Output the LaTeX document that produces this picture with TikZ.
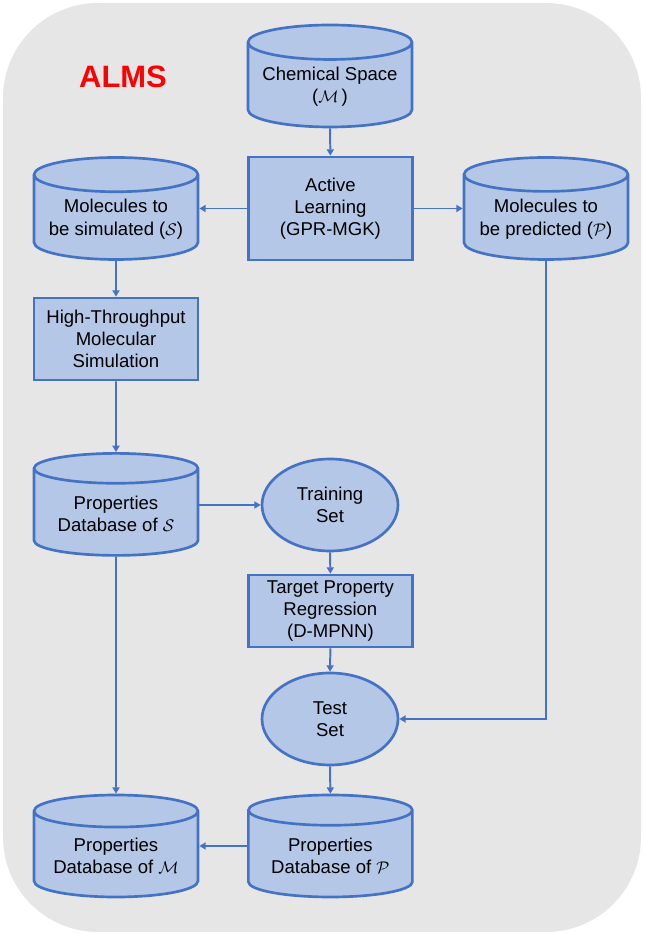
\documentclass[tikz,border=0pt]{standalone}
\usepackage{fontspec}
\setmainfont{Liberation Sans}
\usetikzlibrary{arrows.meta, positioning, shapes.geometric}

\definecolor{lineblue}{HTML}{4472C4}
\definecolor{boxblue}{HTML}{B4C7E7}
\definecolor{bggray}{HTML}{E6E6E6}

\begin{document}
\begin{tikzpicture}[
        every node/.style={font=\fontsize{13.2}{15.8}\selectfont, align=center},
        db/.style={cylinder, shape border rotate=90, aspect=0.25, draw=lineblue, fill=boxblue,
            line width=1.9pt, minimum width=4.1cm, minimum height=2.55cm, inner sep=1pt,
            anchor=shape center},
        proc/.style={rectangle, draw=lineblue, fill=boxblue, line width=1.9pt, minimum width=4.1cm},
        setnode/.style={ellipse, draw=lineblue, fill=boxblue, line width=1.9pt,
            minimum width=3.4cm, minimum height=2.3cm, inner sep=0pt},
        flow/.style={draw=lineblue, line width=1.4pt, -{Triangle[width=5pt, length=4.5pt]}}
    ]
        % Nền
        \useasboundingbox (0,0) rectangle (16.1,23.35);
        \fill[bggray, rounded corners=2.375cm] (0.075,0.05) rectangle (16.025,23.275);

        \node[text=red, font=\fontsize{22}{26}\selectfont\bfseries] (title) at (3.075,21.425) {ALMS};

        % Các khối chính
        \node[db] (chem) at (8.25,21.45) {Chemical Space\\($\mathcal{M}$\,)};
        \node[proc, minimum height=2.575cm] (active) at (8.26,18.1375) {Active\\Learning\\(GPR-MGK)};
        \node[db] (sim) at (2.9,18.1375) {Molecules to\\be simulated ($\mathcal{S}$)};
        \node[db] (pred) at (13.65,18.1375) {Molecules to\\be predicted ($\mathcal{P}$)};
        \node[proc, minimum height=2.05cm] (hts) at (2.9,14.875) {High-Throughput\\Molecular\\Simulation};
        \node[db] (dbS) at (2.9,10.74) {Properties\\Database of $\mathcal{S}$};
        \node[setnode] (train) at (8.25,10.725) {Training\\Set};
        \node[proc, minimum height=1.8cm] (tpr) at (8.26,8.075) {Target Property\\Regression\\(D-MPNN)};
        \node[setnode] (test) at (8.25,5.375) {Test\\Set};
        \node[db] (dbP) at (8.26,2.2) {Properties\\Database of $\mathcal{P}$};
        \node[db] (dbM) at (2.9,2.2) {Properties\\Database of $\mathcal{M}$};

        % Các mũi tên
        \draw[flow] (chem.south) -- (active.north);
        \draw[flow] (active.west) -- (active.west -| sim.east);
        \draw[flow] (active.east) -- (active.east -| pred.west);
        \draw[flow] (sim.south) -- (hts.north);
        \draw[flow] (hts.south) -- (dbS.north);
        \draw[flow] (train.west -| dbS.east) -- (train.west);
        \draw[flow] (train.south) -- (tpr.north);
        \draw[flow] (tpr.south) -- (test.north);
        \draw[flow] (pred.south) |- (test.east);
        \draw[flow] (test.south) -- (dbP.north);
        \draw[flow] (dbS.south) -- (dbM.north);
        \draw[flow] (dbP.shape center -| dbP.west) -- (dbP.shape center -| dbM.east);
    \end{tikzpicture}
\end{document}
